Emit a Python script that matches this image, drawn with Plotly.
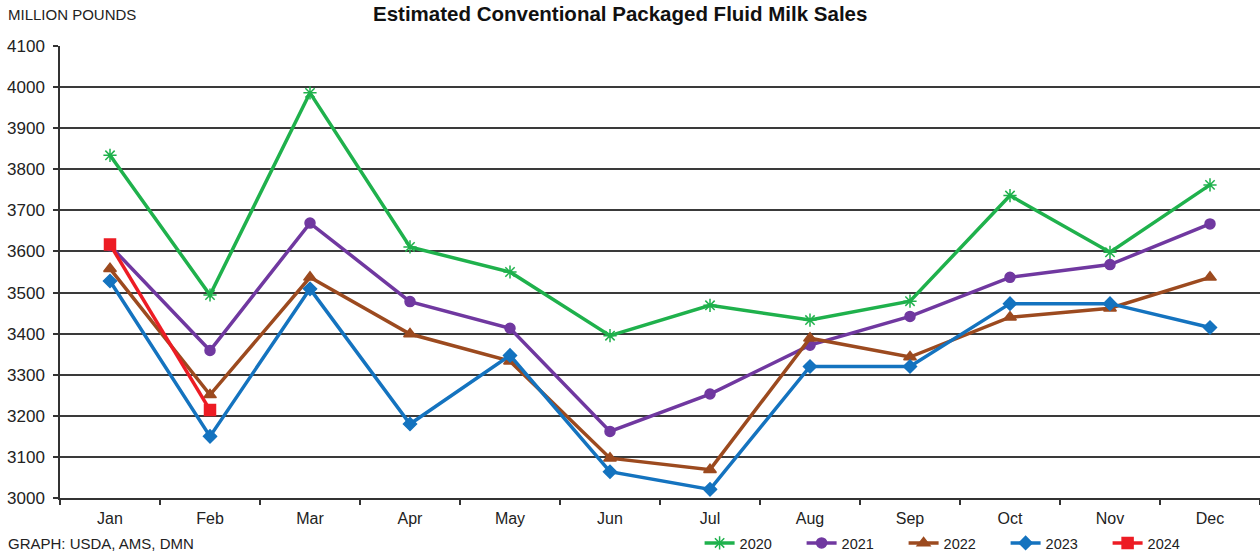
import plotly.graph_objects as go

months = ["Jan", "Feb", "Mar", "Apr", "May", "Jun", "Jul", "Aug", "Sep", "Oct", "Nov", "Dec"]
y2020 = [3834, 3494, 3986, 3611, 3550, 3395, 3469, 3433, 3479, 3736, 3598, 3762]
y2021 = [3614, 3359, 3669, 3478, 3413, 3162, 3253, 3372, 3442, 3537, 3568, 3667]
y2022 = [3558, 3251, 3537, 3399, 3333, 3097, 3069, 3389, 3343, 3440, 3462, 3537]
y2023 = [3528, 3150, 3509, 3180, 3347, 3064, 3021, 3320, 3320, 3473, 3473, 3415]
y2024 = [3617, 3214]

series = [
    ("2020", y2020, "#1fb14c", "asterisk-open", 11),
    ("2021", y2021, "#7038a0", "circle", 10),
    ("2022", y2022, "#9c4a1f", "triangle-up", 11),
    ("2023", y2023, "#1473bf", "diamond", 10),
    ("2024", y2024, "#ed1c24", "square", 11),
]

FONT = "Arial, Liberation Sans, sans-serif"

fig = go.Figure()
for name, vals, color, sym, size in series:
    fig.add_trace(go.Scatter(
        x=months[:len(vals)], y=vals, name=name, mode="lines+markers",
        line=dict(color=color, width=3.5),
        marker=dict(symbol=sym, size=size, color=color,
                    line=dict(color=color, width=1.5)),
    ))

fig.update_layout(
    width=1260, height=556,
    margin=dict(l=60, r=0, t=46, b=58, autoexpand=False),
    paper_bgcolor="white", plot_bgcolor="white",
    font=dict(family=FONT, size=16, color="#222222"),
    showlegend=True,
    legend=dict(orientation="h", x=0.533, xanchor="left", y=-(543 - 498) / 452, yanchor="middle",
                font=dict(size=14.5, color="#222222"), entrywidth=57, entrywidthmode="pixels",
                itemwidth=30, tracegroupgap=0),
    xaxis=dict(
        type="category", categoryorder="array", categoryarray=months,
        range=[-0.5, 11.5],
        showline=True, linecolor="#333333", linewidth=1.5,
        ticks="outside", tickson="boundaries", ticklen=5, tickcolor="#333333", tickwidth=1.5,
        ticklabelstandoff=5,
        showgrid=False, tickfont=dict(size=16, color="#222222"),
    ),
    yaxis=dict(
        range=[3000, 4100], dtick=100, tick0=3000,
        showline=True, linecolor="#333333", linewidth=1.5,
        ticks="outside", ticklen=5, tickcolor="#333333", tickwidth=1.5,
        ticklabelstandoff=5,
        showgrid=True, gridcolor="#3a3a3a", gridwidth=1.5,
        tickfont=dict(size=17, color="#222222"), zeroline=False,
    ),
    annotations=[
        dict(text="<b>Estimated Conventional Packaged Fluid Milk Sales</b>", xref="paper", yref="paper",
             x=(620 - 60) / 1200, y=1 + (46 - 13) / 452, xanchor="center", yanchor="middle",
             showarrow=False, font=dict(size=20.5, color="#111111")),
        dict(text="MILLION POUNDS", xref="paper", yref="paper",
             x=-54 / 1200, y=1 + (46 - 15) / 452, xanchor="left", yanchor="middle",
             showarrow=False, font=dict(size=15, color="#222222")),
        dict(text="GRAPH: USDA, AMS, DMN", xref="paper", yref="paper",
             x=-54 / 1200, y=-(543 - 498) / 452, xanchor="left", yanchor="middle",
             showarrow=False, font=dict(size=15, color="#222222")),
    ],
)

fig.write_html("out.html")
